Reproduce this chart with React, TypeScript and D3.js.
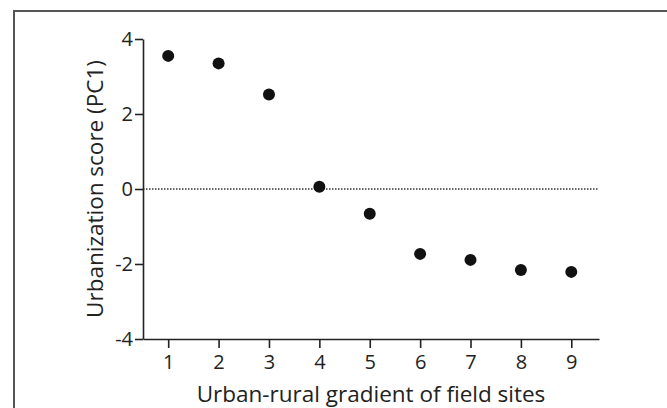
import React, { useRef, useEffect } from 'react';
import * as d3 from 'd3';

// site index along the urban-rural gradient, and PC1 score
const sites = [1, 2, 3, 4, 5, 6, 7, 8, 9];
const scores = [3.55, 3.35, 2.52, 0.06, -0.66, -1.73, -1.89, -2.16, -2.21];
const yTicks = [-4, -2, 0, 2, 4];

const W = 667;
const H = 408;
const FONT = '"Open Sans", sans-serif';

export default function App() {
  const ref = useRef<SVGSVGElement>(null);

  useEffect(() => {
    const svg = d3.select(ref.current);
    svg.selectAll('*').remove();

    const x = d3.scaleLinear().domain([0.5, 9.55]).range([143, 599]);
    const y = d3.scaleLinear().domain([-4, 4]).range([339, 39]);

    // outer frame (top + left only)
    svg.append('path')
      .attr('d', `M14,${H} L14,11 L${W},11`)
      .attr('fill', 'none')
      .attr('stroke', '#555')
      .attr('stroke-width', 2);

    // dotted zero line
    svg.append('line')
      .attr('x1', x(0.5)).attr('x2', x(9.55))
      .attr('y1', y(0)).attr('y2', y(0))
      .attr('stroke', '#333')
      .attr('stroke-width', 1.5)
      .attr('stroke-dasharray', '1.5,1.5');

    const yAxis = svg.append('g')
      .attr('transform', `translate(${x(0.5)},0)`)
      .call(d3.axisLeft(y).tickValues(yTicks).tickSize(8).tickSizeOuter(0).tickPadding(2).tickFormat((d) => String(d)));

    const xAxis = svg.append('g')
      .attr('transform', `translate(0,${y(-4)})`)
      .call(d3.axisBottom(x).tickValues(sites).tickSize(9).tickSizeOuter(0).tickPadding(7).tickFormat((d) => String(d)));

    [yAxis, xAxis].forEach(g => {
      g.select('.domain').attr('stroke', '#222').attr('stroke-width', 1.6);
      g.selectAll('.tick line').attr('stroke', '#222').attr('stroke-width', 1.6);
      g.selectAll('.tick text')
        .attr('fill', '#222')
        .style('font-family', FONT)
        .style('font-size', '20px');
    });

    svg.append('g')
      .selectAll('circle')
      .data(sites)
      .enter()
      .append('circle')
      .attr('cx', (d) => x(d))
      .attr('cy', (d, i) => y(scores[i]))
      .attr('r', 6)
      .attr('fill', '#111');

    svg.append('text')
      .attr('x', 371)
      .attr('y', 402)
      .attr('text-anchor', 'middle')
      .attr('fill', '#222')
      .style('font-family', FONT)
      .style('font-size', '22.5px')
      .text('Urban-rural gradient of field sites');

    svg.append('text')
      .attr('transform', 'translate(103,189) rotate(-90)')
      .attr('text-anchor', 'middle')
      .attr('fill', '#222')
      .style('font-family', FONT)
      .style('font-size', '22.5px')
      .text('Urbanization score (PC1)');
  }, []);

  return (
    <svg
      ref={ref}
      width={W}
      height={H}
      style={{ position: 'absolute', left: 0, top: 0, background: '#fff' }}
    />
  );
}
